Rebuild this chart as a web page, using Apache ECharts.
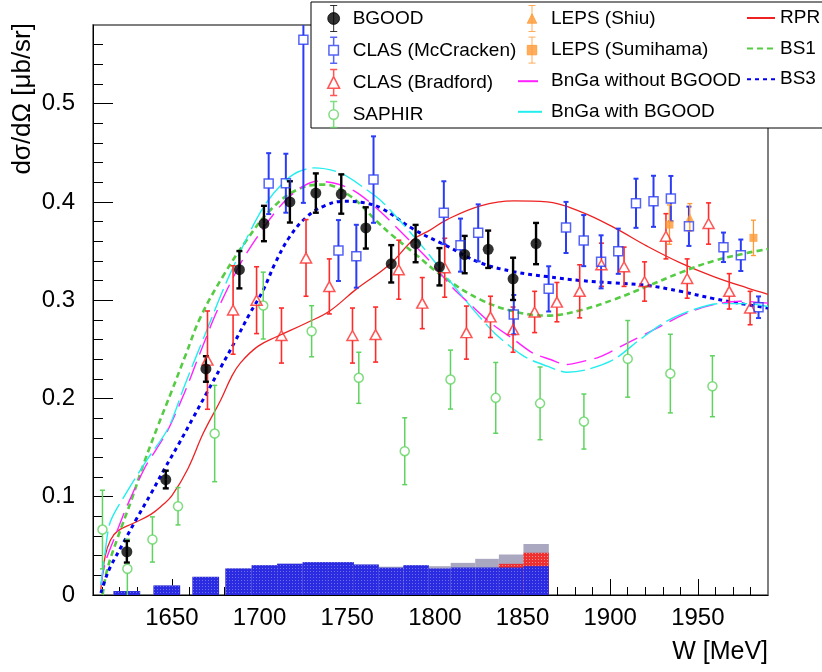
<!DOCTYPE html>
<html>
<head>
<meta charset="utf-8">
<script src="https://cdn.jsdelivr.net/npm/echarts@6/dist/echarts.min.js"></script>
<style>
html,body{margin:0;padding:0;background:#fff}
#chart{width:822px;height:672px}
</style>
</head>
<body>
<div id="chart"></div>
<script>
// ---- axis ticks ----
var xMajorTicks = [1650, 1700, 1750, 1800, 1850, 1900, 1950];
var xMinorTicks = [1610, 1620, 1630, 1640, 1660, 1670, 1680, 1690, 1710, 1720, 1730, 1740,
    1760, 1770, 1780, 1790, 1810, 1820, 1830, 1840, 1860, 1870, 1880, 1890,
    1910, 1920, 1930, 1940, 1960, 1970, 1980];
var yMajorTicks = [0, 0.1, 0.2, 0.3, 0.4, 0.5];
var yMinorTicks = [0.02, 0.04, 0.06, 0.08, 0.12, 0.14, 0.16, 0.18, 0.22, 0.24, 0.26, 0.28,
    0.32, 0.34, 0.36, 0.38, 0.42, 0.44, 0.46, 0.48, 0.52, 0.54, 0.56];

// ---- data points ----
var bgoodW   = [1624.3, 1646.5, 1669.4, 1688.5, 1702.5, 1717.3, 1732.1, 1746.6, 1760.6, 1775.1, 1789.0, 1802.6, 1817.0, 1830.4, 1844.6, 1857.7];
var bgoodXs  = [0.044, 0.1175, 0.230, 0.331, 0.378, 0.400, 0.409, 0.408, 0.3735, 0.337, 0.3576, 0.334, 0.3464, 0.3518, 0.3217, 0.3576];
var bgoodErr = [0.011, 0.009, 0.013, 0.019, 0.018, 0.021, 0.020, 0.020, 0.021, 0.019, 0.019, 0.019, 0.019, 0.019, 0.0215, 0.021];

var mccW   = [1705.2, 1715.0, 1725.0, 1745.0, 1755.2, 1765.0, 1805.1, 1814.6, 1824.7, 1845.0, 1864.9, 1874.8, 1884.9, 1894.8, 1904.6, 1914.7, 1924.7, 1934.6, 1944.9, 1964.6, 1974.5, 1984.6];
var mccXs  = [0.4186, 0.419, 0.565, 0.3505, 0.3447, 0.4227, 0.389, 0.356, 0.3685, 0.2853, 0.3115, 0.374, 0.3606, 0.339, 0.3498, 0.3986, 0.4006, 0.4034, 0.3752, 0.3538, 0.3457, 0.2928];
var mccErr = [0.031, 0.030, 0.166, 0.031, 0.032, 0.044, 0.032, 0.027, 0.029, 0.020, 0.023, 0.026, 0.026, 0.027, 0.023, 0.025, 0.026, 0.023, 0.020, 0.015, 0.016, 0.011];

var bradW   = [1670.3, 1684.9, 1698.3, 1712.5, 1726.5, 1739.8, 1753.0, 1766.2, 1779.4, 1792.8, 1805.6, 1818.0, 1831.7, 1844.6, 1856.9, 1869.6, 1882.6, 1895.0, 1907.9, 1919.6, 1931.8, 1943.9, 1956.1, 1967.9, 1979.8];
var bradXs  = [0.239, 0.290, 0.300, 0.264, 0.343, 0.314, 0.264, 0.265, 0.331, 0.297, 0.333, 0.267, 0.283, 0.270, 0.288, 0.298, 0.309, 0.336, 0.334, 0.319, 0.365, 0.322, 0.378, 0.309, 0.292];
var bradErr = [0.050, 0.045, 0.034, 0.028, 0.039, 0.028, 0.028, 0.028, 0.030, 0.026, 0.030, 0.027, 0.021, 0.023, 0.021, 0.020, 0.027, 0.022, 0.020, 0.020, 0.023, 0.020, 0.021, 0.018, 0.017];

var saphW   = [1610.4, 1624.6, 1638.9, 1653.5, 1674.4, 1702.1, 1729.7, 1756.6, 1782.8, 1808.9, 1834.7, 1860.0, 1885.0, 1910.0, 1934.3, 1958.3];
var saphXs  = [0.0666, 0.0267, 0.0565, 0.0903, 0.1643, 0.2945, 0.2684, 0.221, 0.1463, 0.2192, 0.2006, 0.195, 0.1765, 0.2403, 0.2253, 0.2124];
var saphErr = [0.040, 0.030, 0.023, 0.019, 0.049, 0.034, 0.026, 0.026, 0.034, 0.030, 0.036, 0.037, 0.028, 0.039, 0.040, 0.031];

var shiuW = [1945.4], shiuXs = [0.3843], shiuErr = [0.014];
var sumiW = [1933.8, 1981.7], sumiXs = [0.3769, 0.3634], sumiErr = [0.020, 0.018];

// ---- model curves [W, dsigma/dOmega] ----
var rprCurve = [[1609.5,0.006],[1612,0.040],[1615,0.056],[1619,0.065],[1628,0.073],[1638,0.082],[1645,0.092],
    [1650,0.101],[1659,0.128],[1668,0.165],[1678,0.199],[1684,0.222],[1689,0.236],[1699,0.253],[1710,0.263],
    [1727,0.277],[1740,0.289],[1755,0.311],[1774,0.336],[1788,0.362],[1797,0.371],[1807,0.382],[1826,0.396],
    [1845,0.401],[1864,0.400],[1883,0.390],[1902,0.374],[1921,0.355],[1940,0.338],[1959,0.324],[1978,0.3125],[1990,0.306]];
var bs1Curve = [[1610.5,0.0],[1613,0.025],[1619,0.058],[1627,0.097],[1634,0.134],[1642,0.172],[1650,0.208],
    [1658,0.245],[1666.4,0.283],[1679.7,0.326],[1693,0.362],[1706.3,0.392],[1721.5,0.4125],[1736.7,0.4176],
    [1751.9,0.4057],[1767,0.380],[1775,0.367],[1788,0.348],[1807,0.321],[1826,0.3006],[1845,0.2887],[1864,0.2843],
    [1883,0.2897],[1902,0.3006],[1921,0.314],[1940,0.328],[1959,0.340],[1978,0.348],[1990,0.352]];
var bs3Curve = [[1609.5,0.002],[1612,0.016],[1615,0.029],[1622,0.052],[1630,0.078],[1638,0.103],[1646,0.129],
    [1654,0.154],[1662,0.180],[1670,0.206],[1678,0.232],[1686,0.258],[1694,0.285],[1702,0.310],[1709,0.338],
    [1717,0.364],[1727,0.385],[1737,0.396],[1748,0.4006],[1760,0.399],[1770,0.393],[1788,0.372],[1807,0.355],
    [1826,0.338],[1845,0.329],[1864,0.324],[1883,0.320],[1902,0.3176],[1921,0.315],[1940,0.309],[1959,0.3016],
    [1978,0.2955],[1990,0.292]];
var bngaWithoutCurve = [[1609.5,0.010],[1612,0.033],[1617,0.057],[1625,0.093],[1635,0.131],[1641,0.148],
    [1647.5,0.167],[1657,0.205],[1666,0.246],[1676,0.290],[1690,0.340],[1704,0.378],[1715,0.402],[1725,0.416],
    [1733,0.421],[1745,0.418],[1756,0.409],[1769,0.390],[1782,0.367],[1797,0.340],[1810,0.313],[1820,0.296],
    [1831.7,0.277],[1845,0.260],[1856,0.246],[1866,0.2396],[1875,0.2345],[1885,0.238],[1894,0.2423],
    [1910,0.2566],[1925,0.270],[1944,0.287],[1959,0.2955],[1974,0.2989],[1990,0.297]];
var bngaWithCurve = [[1609.5,0.010],[1612,0.045],[1615,0.075],[1624.6,0.1056],[1636,0.138],[1648,0.170],
    [1657,0.212],[1670,0.270],[1683.5,0.328],[1702.5,0.3955],[1717.7,0.426],[1731,0.4346],[1746,0.4295],
    [1761,0.4125],[1770,0.400],[1782,0.377],[1795,0.350],[1807,0.323],[1816.5,0.302],[1826,0.282],
    [1835.5,0.264],[1850.7,0.243],[1864,0.2328],[1875.4,0.2267],[1886.8,0.2294],[1902,0.2396],[1917,0.260],
    [1932,0.2785],[1947.5,0.2904],[1962.7,0.2965],[1978,0.2965],[1990,0.2935]];

// ---- systematic uncertainty histogram ----
var binLo   = [1616.7, 1639.5, 1661.7, 1680.5, 1695.5, 1710.0, 1724.6, 1739.0, 1753.8, 1768.0, 1782.0, 1796.5, 1809.0, 1823.0, 1836.5, 1850.5];
var binHi   = [1631.9, 1654.7, 1676.9, 1695.5, 1710.0, 1724.6, 1739.0, 1753.8, 1768.0, 1782.0, 1796.5, 1809.0, 1823.0, 1836.5, 1850.5, 1865.0];
var sysBlue = [0.004, 0.0097, 0.0185, 0.027, 0.0303, 0.0318, 0.0334, 0.0334, 0.031, 0.0278, 0.0303, 0.027, 0.028, 0.028, 0.028, 0.0293];
var sysRed  = [0, 0, 0, 0, 0, 0, 0, 0, 0, 0, 0, 0, 0, 0, 0.0317, 0.043];
var sysGray = [0.004, 0.0097, 0.0185, 0.027, 0.0303, 0.0318, 0.0334, 0.0334, 0.031, 0.0288, 0.0303, 0.0293, 0.0327, 0.0368, 0.0412, 0.052];

var FONT = '"Liberation Sans", Arial, Helvetica, sans-serif';
var X_MIN = 1605, X_MAX = 1990, Y_MIN = 0, Y_MAX = 0.58;

var C_BLUE = '#2a3cf5', C_RED = '#ff2a2a', C_GREEN = '#5fd35f', C_ORANGE = '#ff9933';

// small dotted fill like the ROOT hatch style
function dotPattern(bg, dot) {
    var cv = document.createElement('canvas');
    cv.width = 3; cv.height = 3;
    var ctx = cv.getContext('2d');
    ctx.fillStyle = bg; ctx.fillRect(0, 0, 3, 3);
    ctx.fillStyle = dot; ctx.fillRect(1, 1, 1, 1);
    return { image: cv, repeat: 'repeat' };
}

function zip3(a, b, c) {
    return a.map(function (v, i) { return [v, b[i], c[i]]; });
}

// error bars, drawn with a gap round the marker like ROOT does
function errorBarItem(color, width, gap, cap) {
    return function (params, api) {
        var x = api.value(0), y = api.value(1), e = api.value(2);
        var c = api.coord([x, y]);
        var hi = api.coord([x, Math.min(y + e, Y_MAX)]);
        var lo = api.coord([x, Math.max(y - e, Y_MIN)]);
        var st = { stroke: color, lineWidth: width };
        var kids = [];
        if (c[1] - gap > hi[1]) kids.push({ type: 'line', shape: { x1: c[0], y1: hi[1], x2: c[0], y2: c[1] - gap }, style: st });
        if (lo[1] > c[1] + gap) kids.push({ type: 'line', shape: { x1: c[0], y1: c[1] + gap, x2: c[0], y2: lo[1] }, style: st });
        if (y + e < Y_MAX) kids.push({ type: 'line', shape: { x1: c[0] - cap, y1: hi[1], x2: c[0] + cap, y2: hi[1] }, style: st });
        if (y - e > Y_MIN) kids.push({ type: 'line', shape: { x1: c[0] - cap, y1: lo[1], x2: c[0] + cap, y2: lo[1] }, style: st });
        return { type: 'group', children: kids };
    };
}

function binItem(fill) {
    return function (params, api) {
        var h = api.value(2);
        if (!h) return null;
        var p0 = api.coord([api.value(0), h]);
        var p1 = api.coord([api.value(1), 0]);
        return { type: 'rect', shape: { x: p0[0], y: p0[1], width: p1[0] - p0[0], height: p1[1] - p0[1] }, style: { fill: fill } };
    };
}

function errSeries(data, color, width, gap, cap) {
    return { type: 'custom', renderItem: errorBarItem(color, width, gap, cap), data: data,
        encode: { x: 0, y: 1 }, z: 4, silent: true };
}
function binSeries(lo, hi, h, fill, z) {
    return { type: 'custom', renderItem: binItem(fill), data: zip3(lo, hi, h),
        encode: { x: [0, 1], y: 2 }, z: z, silent: true };
}
function curveSeries(name, data, color, width, dash, smooth) {
    return { name: name, type: 'line', data: data, symbol: 'none', showSymbol: false, smooth: smooth,
        lineStyle: { color: color, width: width, type: dash }, itemStyle: { color: color }, z: 3, silent: true };
}

// legend icons: marker with error bar
var ICON_BGOOD = 'path://M5,0L5,22M2,0L8,0M2,22L8,22M5,6A5,5,0,1,1,5,16A5,5,0,1,1,5,6Z';
var ICON_MCC   = 'path://M5,0L5,7M5,15L5,22M2,0L8,0M2,22L8,22M1,7L9,7L9,15L1,15Z';
var ICON_BRAD  = 'path://M5,0L5,6M5,16L5,22M2,0L8,0M2,22L8,22M5,6L10,16L0,16Z';
var ICON_SAPH  = 'path://M5,0L5,7M5,15L5,22M2,0L8,0M2,22L8,22M5,7A4,4,0,1,1,5,15A4,4,0,1,1,5,7Z';
var ICON_SHIU  = 'path://M4,0L4,22M1,0L7,0M1,22L7,22M4,7L8,15L0,15Z';
var ICON_SUMI  = 'path://M4,0L4,22M1,0L7,0M1,22L7,22M0,7L8,7L8,15L0,15Z';
var NO_SYMBOL = { color: 'rgba(0,0,0,0)', borderColor: 'rgba(0,0,0,0)', borderWidth: 0, opacity: 0 };

function legendAt(left, items) {
    return {
        orient: 'vertical', left: left, top: 5, padding: 0, itemGap: 4.6,
        itemWidth: 28, itemHeight: 26, selectedMode: false, z: 20,
        textStyle: { fontFamily: FONT, fontSize: 19, color: '#000', lineHeight: 26 },
        data: items
    };
}

var chart = echarts.init(document.getElementById('chart'), null, { renderer: 'canvas' });

var option = {
    backgroundColor: '#fff',
    animation: false,
    grid: { left: 93, right: 54, top: 25, bottom: 77, show: true, borderColor: '#555', borderWidth: 1.5,
        containLabel: false, outerBoundsMode: 'none' },
    xAxis: [{
        type: 'value', min: X_MIN, max: X_MAX, position: 'bottom',
        axisLine: { show: true, onZero: false, lineStyle: { color: '#000', width: 1 } },
        axisTick: { show: true, inside: true, length: 16, customValues: xMajorTicks, lineStyle: { color: '#000', width: 1 } },
        axisLabel: { customValues: xMajorTicks, fontFamily: FONT, fontSize: 24, color: '#000', margin: 11,
            formatter: function (v) { return String(v); } },
        splitLine: { show: false }
    }, {
        type: 'value', min: X_MIN, max: X_MAX, position: 'bottom', offset: 0,
        axisLine: { show: false },
        axisTick: { show: true, inside: true, length: 8, customValues: xMinorTicks, lineStyle: { color: '#000', width: 1 } },
        axisLabel: { show: false },
        splitLine: { show: false }
    }],
    yAxis: [{
        type: 'value', min: Y_MIN, max: Y_MAX, position: 'left',
        axisLine: { show: true, onZero: false, lineStyle: { color: '#000', width: 1 } },
        axisTick: { show: true, inside: true, length: 20, customValues: yMajorTicks, lineStyle: { color: '#000', width: 1 } },
        axisLabel: { customValues: yMajorTicks, fontFamily: FONT, fontSize: 24, color: '#000', margin: 18,
            formatter: function (v) { return v === 0 ? '0' : v.toFixed(1); } },
        splitLine: { show: false }
    }, {
        type: 'value', min: Y_MIN, max: Y_MAX, position: 'left', offset: 0,
        axisLine: { show: false },
        axisTick: { show: true, inside: true, length: 10, customValues: yMinorTicks, lineStyle: { color: '#000', width: 1 } },
        axisLabel: { show: false },
        splitLine: { show: false }
    }],
    legend: [
        legendAt(327, [
            { name: 'BGOOD', icon: ICON_BGOOD, itemStyle: { color: '#000', borderColor: '#000', borderWidth: 1 } },
            { name: 'CLAS (McCracken)', icon: ICON_MCC, itemStyle: { color: 'rgba(0,0,0,0)', borderColor: C_BLUE, borderWidth: 1.5 } },
            { name: 'CLAS (Bradford)', icon: ICON_BRAD, itemStyle: { color: 'rgba(0,0,0,0)', borderColor: C_RED, borderWidth: 1.5 } },
            { name: 'SAPHIR', icon: ICON_SAPH, itemStyle: { color: 'rgba(0,0,0,0)', borderColor: C_GREEN, borderWidth: 1.5 } }
        ]),
        legendAt(517, [
            { name: 'LEPS (Shiu)', icon: ICON_SHIU, itemStyle: { color: C_ORANGE, borderColor: C_ORANGE, borderWidth: 1 } },
            { name: 'LEPS (Sumihama)', icon: ICON_SUMI, itemStyle: { color: C_ORANGE, borderColor: C_ORANGE, borderWidth: 1 } },
            { name: 'BnGa without BGOOD', itemStyle: NO_SYMBOL },
            { name: 'BnGa with BGOOD', itemStyle: NO_SYMBOL }
        ]),
        legendAt(746, [
            { name: 'RPR', itemStyle: NO_SYMBOL },
            { name: 'BS1', itemStyle: NO_SYMBOL },
            { name: 'BS3', itemStyle: NO_SYMBOL }
        ])
    ],
    graphic: [
        { type: 'rect', shape: { x: 311, y: 2, width: 530, height: 126 },
          style: { fill: '#fff', stroke: '#000', lineWidth: 1 }, z: 10, silent: true },
        { type: 'text', x: 768, y: 652, z: 10, silent: true,
          style: { text: 'W [MeV]', fontFamily: FONT, fontSize: 25, fill: '#000', align: 'right', verticalAlign: 'middle' } },
        { type: 'text', x: 23, y: 23, rotation: Math.PI / 2, z: 10, silent: true,
          style: { text: 'dσ/dΩ [μb/sr]', fontFamily: FONT, fontSize: 26, fill: '#000', align: 'right', verticalAlign: 'middle' } }
    ],
    series: [
        // systematic uncertainty bands
        binSeries(binLo, binHi, sysGray, '#a9a8c0', 1),
        binSeries(binLo, binHi, sysRed, dotPattern('#ee3030', '#ff9090'), 1),
        binSeries(binLo, binHi, sysBlue, dotPattern('#2b2be2', '#6e6ef2'), 1),

        // model curves
        curveSeries('RPR', rprCurve, '#ee2222', 1.3, 'solid', 0.4),
        curveSeries('BS1', bs1Curve, '#55cc44', 2.6, [6, 4], 0.4),
        curveSeries('BS3', bs3Curve, '#0000ee', 3, [4, 4], 0.4),
        curveSeries('BnGa without BGOOD', bngaWithoutCurve, '#ff22ff', 1.4, [20, 8], 0.3),
        curveSeries('BnGa with BGOOD', bngaWithCurve, '#22eeee', 1.4, [24, 6], 0.3),

        // error bars
        errSeries(zip3(saphW, saphXs, saphErr), C_GREEN, 1.5, 4.5, 2.5),
        errSeries(zip3(bradW, bradXs, bradErr), C_RED, 1.6, 5, 2.5),
        errSeries(zip3(mccW, mccXs, mccErr), C_BLUE, 2, 4.5, 2.5),
        errSeries(zip3(shiuW, shiuXs, shiuErr), C_ORANGE, 1.3, 0, 2.5),
        errSeries(zip3(sumiW, sumiXs, sumiErr), C_ORANGE, 1.3, 0, 2.5),
        errSeries(zip3(bgoodW, bgoodXs, bgoodErr), '#000', 2.4, 0, 3),

        // markers
        { name: 'SAPHIR', type: 'scatter', symbol: 'circle', symbolSize: 9, z: 5, silent: true,
          itemStyle: { color: 'rgba(0,0,0,0)', borderColor: C_GREEN, borderWidth: 1.5 },
          data: saphW.map(function (w, i) { return [w, saphXs[i]]; }) },
        { name: 'CLAS (Bradford)', type: 'scatter', symbol: 'triangle', symbolSize: [11, 10], z: 5, silent: true,
          itemStyle: { color: 'rgba(0,0,0,0)', borderColor: C_RED, borderWidth: 1.5 },
          data: bradW.map(function (w, i) { return [w, bradXs[i]]; }) },
        { name: 'CLAS (McCracken)', type: 'scatter', symbol: 'rect', symbolSize: 9, z: 5, silent: true,
          itemStyle: { color: 'rgba(0,0,0,0)', borderColor: C_BLUE, borderWidth: 1.5 },
          data: mccW.map(function (w, i) { return [w, mccXs[i]]; }) },
        { name: 'LEPS (Shiu)', type: 'scatter', symbol: 'triangle', symbolSize: [8, 8], z: 5, silent: true,
          itemStyle: { color: C_ORANGE },
          data: shiuW.map(function (w, i) { return [w, shiuXs[i]]; }) },
        { name: 'LEPS (Sumihama)', type: 'scatter', symbol: 'rect', symbolSize: 8, z: 5, silent: true,
          itemStyle: { color: C_ORANGE },
          data: sumiW.map(function (w, i) { return [w, sumiXs[i]]; }) },
        { name: 'BGOOD', type: 'scatter', symbol: 'circle', symbolSize: 11, z: 6, silent: true,
          itemStyle: { color: '#000' },
          data: bgoodW.map(function (w, i) { return [w, bgoodXs[i]]; }) }
    ]
};

chart.setOption(option);
</script>
</body>
</html>
